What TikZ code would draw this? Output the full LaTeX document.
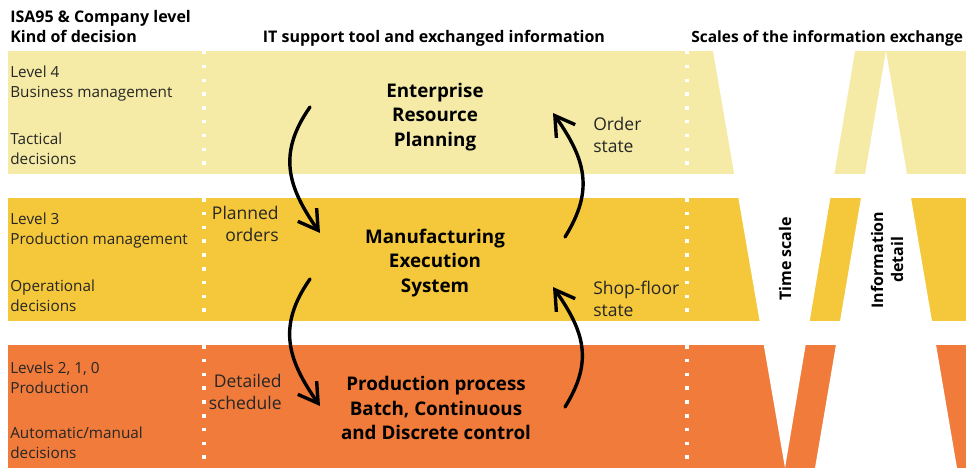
\documentclass[tikz,border=0pt]{standalone}
\usepackage{fontspec}
\setmainfont{Open Sans}
\usepackage{tikz}
\usetikzlibrary{arrows.meta}
\tikzset{every picture/.style={semithick, >={Straight Barb[length=19pt,width=23pt]}}}
\definecolor{tacticalYellow}{RGB}{245,235,166}
\definecolor{operationalYellow}{RGB}{244,200,58}
\definecolor{productionOrange}{RGB}{240,123,59}

\begin{document}
\begin{tikzpicture}[x=1pt,y=1pt,
    header/.style={inner sep=0pt, font=\fontsize{16}{20}\selectfont\bfseries},
    levelinfo/.style={anchor=west, align=left, inner sep=0pt, text=black!85, font=\fontsize{15.3}{20}\selectfont},
    system/.style={align=center, inner sep=0pt, font=\fontsize{18.8}{24.5}\selectfont\bfseries},
    exchange/.style={inner sep=0pt, text=black!85, font=\fontsize{17.5}{22.5}\selectfont},
    flow/.style={->, line width=3.4pt, line cap=round, line join=round, looseness=1.15},
    dots/.style={white, line width=3.5pt, dash pattern=on 3.5pt off 10.3pt}]
            \useasboundingbox (0,0) rectangle (966,-468);
            % bands
            \fill[tacticalYellow] (8,-51) rectangle (966,-174);
            \fill[operationalYellow] (8,-198) rectangle (966,-321);
            \fill[productionOrange] (8,-345) rectangle (966,-468);
            % scales
            \fill[white] (713,-51) -- (855,-51) -- (785,-468) -- cycle;
            \fill[white] (886,-51) -- (957,-468) -- (815,-468) -- cycle;
            \draw[dots] (204,-51) -- (204,-174);
            \draw[dots] (204,-198) -- (204,-321);
            \draw[dots] (204,-345) -- (204,-468);
            \draw[dots] (687,-51) -- (687,-174);
            \draw[dots] (687,-198) -- (687,-321);
            \draw[dots] (687,-345) -- (687,-468);

            \node[header, anchor=base west] (isa) at (10,-23) {ISA95 \& Company level};
            \node[header, anchor=base west] (kind) at (10,-43) {Kind of decision};
            \node[header, anchor=base] (ittool) at (434,-43) {IT support tool and exchanged information};
            \node[header, anchor=base west, font=\fontsize{15.5}{20}\selectfont\bfseries] (scales) at (691,-43) {Scales of the information exchange};

            \node[levelinfo] (lvlfour) at (10,-84) {Level 4\\Business management};
            \node[levelinfo] (tactical) at (10,-149) {Tactical\\decisions};
            \node[levelinfo] (lvlthree) at (10,-231) {Level 3\\Production management};
            \node[levelinfo] (operational) at (10,-296) {Operational\\decisions};
            \node[levelinfo] (lvllow) at (10,-378) {Levels 2, 1, 0\\Production};
            \node[levelinfo] (automatic) at (10,-443) {Automatic/manual\\decisions};

            \node[system] (erp) at (435,-117) {Enterprise\\Resource\\Planning};
            \node[system] (mes) at (435,-263) {Manufacturing\\Execution\\System};
            \node[system] (prod) at (436,-408) {Production process\\Batch, Continuous\\and Discrete control};

            \node[exchange, anchor=east, align=right] (planned) at (279,-224) {Planned\\orders};
            \node[exchange, anchor=east, align=right] (detailed) at (282,-392) {Detailed\\schedule};
            \node[exchange, anchor=west, align=left] (orderstate) at (593,-135) {Order\\state};
            \node[exchange, anchor=west, align=left] (shopfloor) at (593,-299) {Shop-floor\\state};

            \node[header, rotate=90] (timescale) at (785,-259) {Time scale};
            \node[header, rotate=90, align=center] (infodetail) at (887,-260) {Information\\detail};

            % flows between the levels
            \coordinate (erpdown) at (310,-107);
            \coordinate (mesin) at (320,-233);
            \coordinate (mesdown) at (310,-279);
            \coordinate (prodin) at (320,-406);
            \coordinate (produp) at (565,-407);
            \coordinate (mesback) at (553,-287);
            \coordinate (mesup) at (565,-237);
            \coordinate (erpin) at (553,-113);
            \draw[flow] (erpdown) to[out=235,in=125] (mesin);
            \draw[flow] (mesdown) to[out=235,in=125] (prodin);
            \draw[flow] (produp) to[out=58,in=-55] (mesback);
            \draw[flow] (mesup) to[out=58,in=-55] (erpin);
        \end{tikzpicture}
\end{document}
